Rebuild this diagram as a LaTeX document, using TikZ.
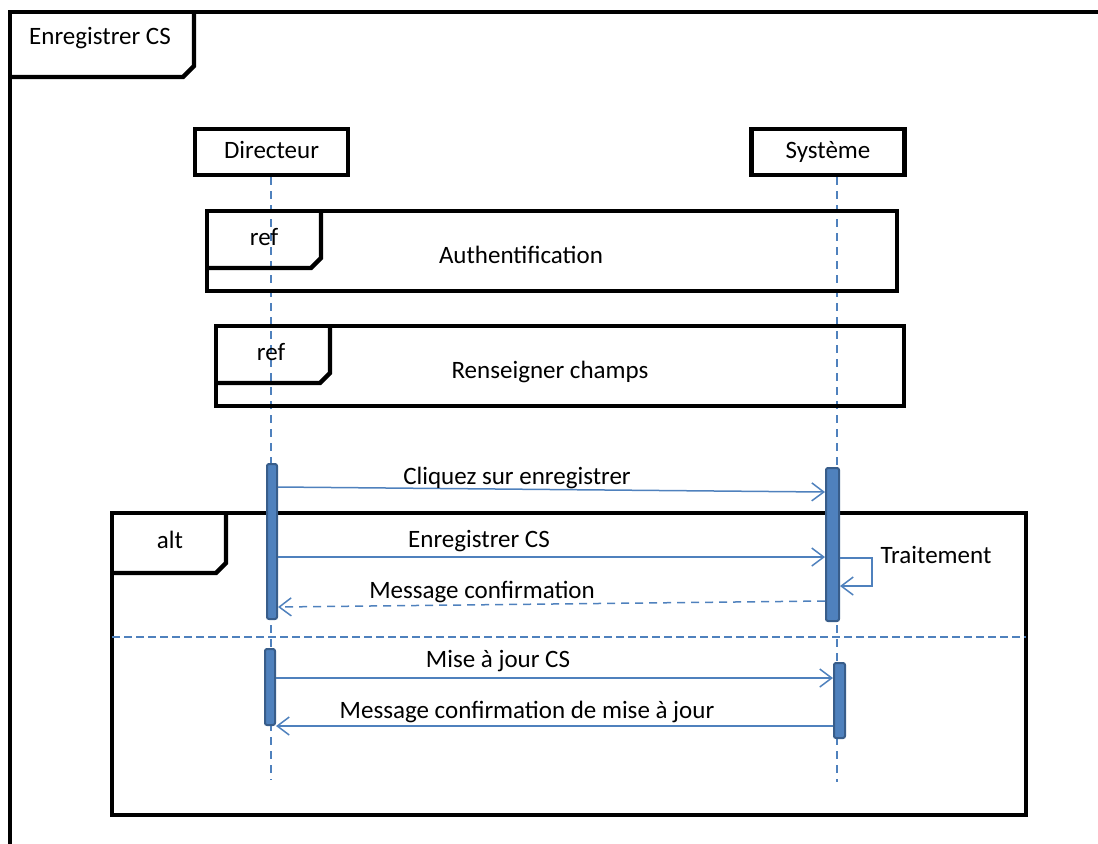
\documentclass[tikz,border=0pt]{standalone}
\usepackage{fontspec}
\setmainfont{Carlito}
\usetikzlibrary{arrows.meta}
\definecolor{umlblue}{HTML}{4F81BD}
\definecolor{umldark}{HTML}{385D8A}

\begin{document}
\begin{tikzpicture}[x=0.5pt, y=-0.5pt,
        lbl/.style={font=\fontsize{12.5}{15}\selectfont, anchor=base, inner sep=0pt},
        frame/.style={draw=black, line width=2.2pt},
        head/.style={draw=black, line width=2.2pt, minimum width=76.5pt, minimum height=23pt, inner sep=0pt, text height=9pt, text depth=2.5pt, font=\fontsize{12.5}{15}\selectfont},
        lifeline/.style={draw=umlblue, line width=0.75pt, dash pattern=on 4pt off 3pt},
        actbar/.style={draw=umldark, fill=umlblue, line width=1pt, minimum width=5pt, rounded corners=1pt, inner sep=0pt},
        msg/.style={draw=umlblue, line width=0.75pt, -{Straight Barb[length=6pt,width=9pt]}},
        reply/.style={msg, dash pattern=on 4pt off 3pt},
        altsep/.style={draw=umlblue, line width=1pt, dash pattern=on 4pt off 2pt}]
        \useasboundingbox (0,0) rectangle (1098,843);

        % Outer frame
        \draw[frame] (10,870) -- (10,12) -- (1120,12);
        \draw[frame] (10,77) -- (183,77) -- (194,66) -- (194,12);
        \node[lbl] (title) at (100,44) {Enregistrer CS};

        % Lifelines
        \node[head] (dir) at (271.5,152) {Directeur};
        \node[head] (sys) at (828,152) {Système};
        \coordinate (dirend) at (271,780);
        \coordinate (sysend) at (837,782);
        \draw[lifeline] (dir.south -| dirend) -- (dirend);
        \draw[lifeline] (sys.south -| sysend) -- (sysend);

        % Ref - Authentification
        \draw[frame] (207,211) rectangle (897,291);
        \draw[frame] (207,268) -- (311,268) -- (321,258) -- (321,211);
        \node[lbl] (ref1) at (264,245) {ref};
        \node[lbl] (auth) at (521,263) {Authentification};

        % Ref - Renseigner champs
        \draw[frame] (216,326) rectangle (904,406);
        \draw[frame] (216,383) -- (320,383) -- (330,373) -- (330,326);
        \node[lbl] (ref2) at (271,360) {ref};
        \node[lbl] (rens) at (550,378) {Renseigner champs};

        % Alt fragment
        \draw[frame] (112,513) rectangle (1026,815);
        \draw[frame] (112,573) -- (216,573) -- (226,563) -- (226,513);
        \node[lbl] (alt) at (170,548) {alt};
        \draw[altsep] (112,637) -- (1026,637);

        % Activations
        \node[actbar, minimum height=77.5pt] (dbar1) at (272,541.5) {};
        \node[actbar, minimum width=6.5pt, minimum height=76.5pt] (sbar1) at (832.5,544.5) {};
        \node[actbar, minimum height=38pt] (dbar2) at (270,687) {};
        \node[actbar, minimum width=5.5pt, minimum height=37.5pt] (sbar2) at (839.5,700.5) {};

        % Messages
        \draw[msg] (dbar1.east |- 0,487) -- (sbar1.west |- 0,492);
        \node[lbl] (m1) at (517,484) {Cliquez sur enregistrer};
        \draw[msg] (dbar1.east |- 0,557) -- (sbar1.west |- 0,557);
        \node[lbl] (m2) at (479,547) {Enregistrer CS};
        \draw[msg] (sbar1.east |- 0,558) -- ++(32,0) |- (sbar1.east |- 0,586);
        \node[lbl] (m3) at (936,563) {Traitement};
        \draw[reply] (sbar1.west |- 0,601) -- (dbar1.east |- 0,607);
        \node[lbl] (m4) at (482,598) {Message confirmation};
        \draw[msg] (dbar2.east |- 0,678) -- (sbar2.west |- 0,678);
        \node[lbl] (m5) at (498,667) {Mise à jour CS};
        \draw[msg] (sbar2.west |- 0,726) -- (dbar2.east |- 0,726);
        \node[lbl] (m6) at (527,718) {Message confirmation de mise à jour};
\end{tikzpicture}
\end{document}
